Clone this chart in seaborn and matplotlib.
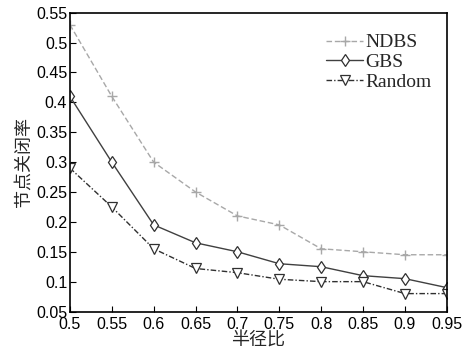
import numpy as np
import pandas as pd
import matplotlib
matplotlib.use('Agg')
import matplotlib.pyplot as plt
import seaborn as sns

# data
ratio = [0.5, 0.55, 0.6, 0.65, 0.7, 0.75, 0.8, 0.85, 0.9, 0.95]
ndbs = [0.53, 0.41, 0.30, 0.25, 0.21, 0.195, 0.155, 0.15, 0.145, 0.145]
gbs = [0.41, 0.30, 0.195, 0.165, 0.15, 0.13, 0.125, 0.11, 0.105, 0.09]
rand = [0.29, 0.225, 0.155, 0.122, 0.115, 0.104, 0.10, 0.10, 0.08, 0.08]
names = ['NDBS', 'GBS', 'Random']

sns.set_style('white')
plt.rcParams['font.family'] = ['Liberation Sans', 'Noto Sans CJK SC']
plt.rcParams['xtick.direction'] = 'in'
plt.rcParams['ytick.direction'] = 'in'

fig = plt.figure(figsize=(4.63, 3.54), dpi=100)
ax = fig.add_axes([0.151, 0.12, 0.814, 0.844])

styles = {
    'NDBS': dict(color='#a8a8a8', linestyle=(0, (4, 2)), marker='+', markersize=7,
                 markeredgewidth=1.0, markerfacecolor='none', markeredgecolor='#a8a8a8'),
    'GBS': dict(color='#404040', linestyle='-', marker='d', markersize=6,
                markeredgewidth=0.9, markerfacecolor='white', markeredgecolor='#303030'),
    'Random': dict(color='#303030', linestyle=(0, (4, 1.5, 1, 1.5)), marker='v', markersize=7,
                   markeredgewidth=0.9, markerfacecolor='white', markeredgecolor='#303030'),
}
for name, vals in zip(names, [ndbs, gbs, rand]):
    df = pd.DataFrame({'x': ratio, 'y': vals})
    sns.lineplot(data=df, x='x', y='y', ax=ax, label=name, linewidth=1.0, **styles[name])

ax.set_xlim(0.5, 0.95)
ax.set_ylim(0.05, 0.55)
ax.set_xticks(ratio)
ax.set_xticklabels(['0.5', '0.55', '0.6', '0.65', '0.7', '0.75', '0.8', '0.85', '0.9', '0.95'])
ax.set_yticks([0.05, 0.1, 0.15, 0.2, 0.25, 0.3, 0.35, 0.4, 0.45, 0.5, 0.55])
ax.set_yticklabels(['0.05', '0.1', '0.15', '0.2', '0.25', '0.3', '0.35', '0.4', '0.45', '0.5', '0.55'])
ax.tick_params(axis='both', labelsize=11.5, length=4, width=0.8, colors='black',
               bottom=True, left=True)
ax.tick_params(axis='x', pad=4)
ax.tick_params(axis='y', pad=2)
for s in ax.spines.values():
    s.set_color('black')
    s.set_linewidth(1.2)

ax.set_xlabel('半径比', fontsize=13, family=['Noto Sans CJK SC'], labelpad=0)
ax.set_ylabel('节点关闭率', fontsize=13, family=['Noto Sans CJK SC'], labelpad=2)

leg = ax.legend(loc='upper right', bbox_to_anchor=(0.995, 0.975), frameon=False,
                prop={'family': 'Liberation Serif', 'size': 14},
                handlelength=1.9, handletextpad=0.1, labelspacing=0.1, borderaxespad=0.3)

fig.savefig('out.png', dpi=100)
